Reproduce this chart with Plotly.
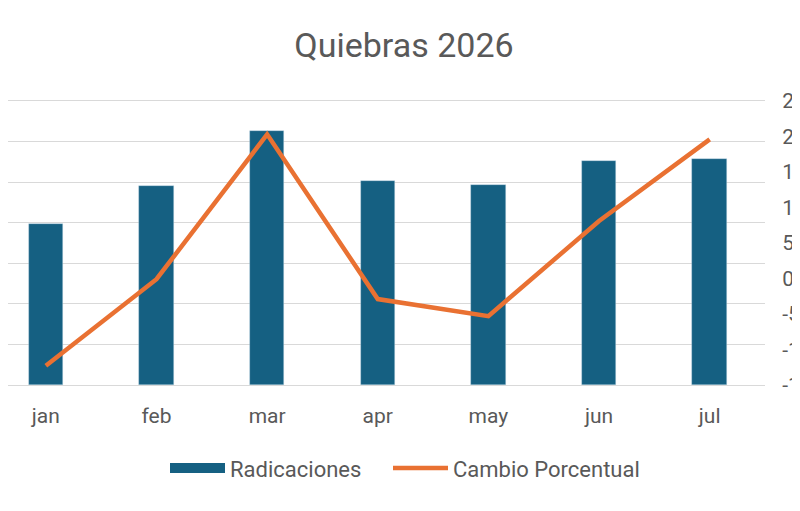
import plotly.graph_objects as go

months = ["jan", "feb", "mar", "apr", "may", "jun", "jul"]
radicaciones = [398, 490, 625, 504, 493, 551, 556]
cambio_pct = [-12.3, -0.1, 20.3, -2.9, -5.3, 8.1, 19.6]

pct_ticks = [-15, -10, -5, 0, 5, 10, 15, 20, 25]
pct_labels = ["-15%", "-10%", "-5%", "0%", "5%", "10%", "15%", "20%", "25%"]

BAR_COLOR = "#156082"
LINE_COLOR = "#E97132"
GRID_COLOR = "#D9D9D9"
TEXT_COLOR = "#595959"
FONT = "Roboto, Arial, sans-serif"

W, H = 792, 503
PLOT_W = 757  # width of the plot area in px

fig = go.Figure()

fig.add_trace(
    go.Bar(
        x=months,
        y=radicaciones,
        name="Radicaciones",
        width=0.312,
        showlegend=False,
        marker={"color": BAR_COLOR, "line": {"color": "rgba(190,215,230,0.6)", "width": 0.6}},
    )
)
# legend-only entry so the swatch is a wide block like the original
fig.add_trace(
    go.Scatter(
        x=[None],
        y=[None],
        name="Radicaciones",
        mode="lines",
        legend="legend",
        line={"color": BAR_COLOR, "width": 13},
    )
)

fig.add_trace(
    go.Scatter(
        x=months,
        y=cambio_pct,
        name="Cambio Porcentual",
        mode="lines",
        yaxis="y2",
        legend="legend2",
        line={"color": LINE_COLOR, "width": 4.5},
    )
)

legend_style = {
    "orientation": "h",
    "xanchor": "left",
    "y": -0.293,
    "yanchor": "middle",
    "font": {"size": 22, "color": TEXT_COLOR},
    "itemwidth": 55,
    "bgcolor": "rgba(0,0,0,0)",
}

fig.update_layout(
    width=W,
    height=H,
    paper_bgcolor="white",
    plot_bgcolor="white",
    font={"family": FONT, "color": TEXT_COLOR, "size": 21},
    title={
        "text": "Quiebras 2026",
        "x": 0.5,
        "xanchor": "center",
        "y": 1 - 37 / H,
        "yanchor": "middle",
        "font": {"size": 34, "color": TEXT_COLOR, "family": FONT},
    },
    margin={"l": 0, "r": 35, "t": 93, "b": 126, "autoexpand": False},
    xaxis={
        "range": [-0.342, 6.5],
        "automargin": False,
        "showgrid": False,
        "showline": True,
        "mirror": True,
        "linecolor": GRID_COLOR,
        "linewidth": 1.3,
        "ticks": "outside",
        "ticklen": 12,
        "tickcolor": "rgba(0,0,0,0)",
        "tickfont": {"size": 21, "color": TEXT_COLOR},
    },
    yaxis={
        "range": [0, 700],
        "dtick": 100,
        "automargin": False,
        "showticklabels": False,
        "showgrid": True,
        "gridcolor": GRID_COLOR,
        "gridwidth": 1.3,
        "zeroline": True,
        "zerolinecolor": GRID_COLOR,
        "zerolinewidth": 1.3,
    },
    yaxis2={
        "range": [-15, 25],
        "tickmode": "array",
        "tickvals": pct_ticks,
        "ticktext": pct_labels,
        "overlaying": "y",
        "side": "right",
        "automargin": False,
        "showgrid": False,
        "zeroline": False,
        "ticks": "outside",
        "ticklen": 12,
        "tickcolor": "rgba(0,0,0,0)",
        "tickfont": {"size": 21, "color": TEXT_COLOR},
    },
    legend={**legend_style, "x": 157 / PLOT_W},
    legend2={**legend_style, "x": 380 / PLOT_W},
    bargap=0,
)

fig.write_html("out.html")
